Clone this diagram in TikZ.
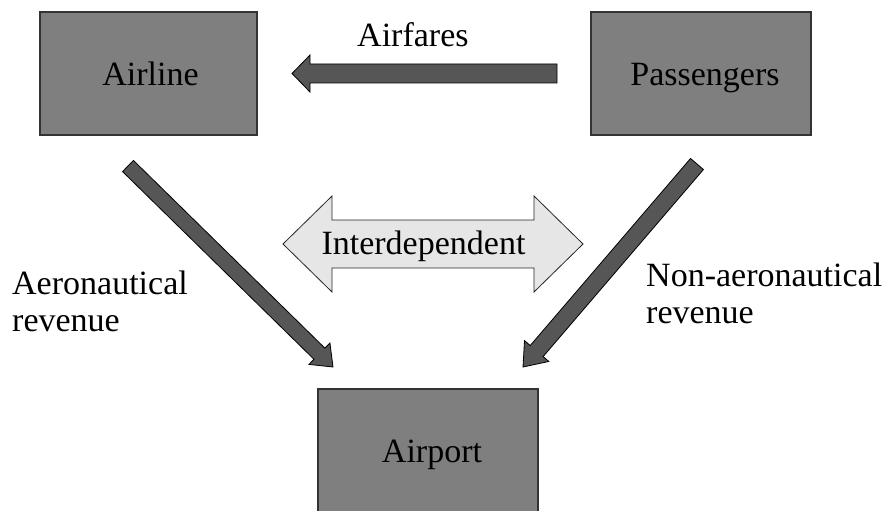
\documentclass[tikz,border=0pt]{standalone}
\usepackage{fontspec}
\setmainfont{Liberation Serif}
\usetikzlibrary{calc}
\definecolor{boxgray}{HTML}{7F7F7F}
\definecolor{arrowgray}{HTML}{565656}
\definecolor{palegray}{HTML}{E6E6E6}
\definecolor{edgegray}{HTML}{333333}
% #1 style, #2 tail, #3 tip, #4 shaft half width, #5 head half width, #6 head length
\newcommand\blockarr[6]{%
  \coordinate (ba-t) at (#2);
  \coordinate (ba-p) at (#3);
  \coordinate (ba-b) at ($(ba-p)!#6!(ba-t)$);
  \draw[#1] ($(ba-t)!#4!90:(ba-p)$) -- ($(ba-b)!#4!-90:(ba-t)$) --
    ($(ba-b)!#5!-90:(ba-t)$) -- (ba-p) -- ($(ba-b)!#5!90:(ba-t)$) --
    ($(ba-b)!#4!90:(ba-t)$) -- ($(ba-t)!#4!-90:(ba-p)$) -- cycle;}
\begin{document}
\begin{tikzpicture}[x=1pt,y=-1pt,
  box/.style={draw=edgegray, line width=1.2pt, fill=boxgray, minimum height=123pt,
    inner sep=0pt, text height=23pt, text depth=0pt, font=\fontsize{34}{37}\selectfont},
  lbl/.style={font=\fontsize{34}{37}\selectfont, inner sep=0pt, align=left},
  darrow/.style={draw=black, line width=0.8pt, fill=arrowgray, line join=miter},
  larrow/.style={draw=black!85, line width=0.8pt, fill=palegray, line join=miter}]
\useasboundingbox (0,0) rectangle (889,511);

\node[box, minimum width=217pt] (airline) at (148.5,73.5) {\hspace{4pt}Airline};
\node[box, minimum width=220pt] (pass) at (701,73.5) {\hspace{8pt}Passengers};
\node[box, minimum width=220pt] (airport) at (428,450.5) {\hspace{8pt}Airport};

% Airfares arrow
\coordinate (fare-tail) at (557,73.5);
\coordinate (fare-tip) at (292,73.5);
\blockarr{darrow}{fare-tail}{fare-tip}{9.5pt}{18.5pt}{18pt}
\node[lbl, anchor=base west] (fares) at (357,47) {Airfares};

% Interdependent double arrow
\draw[larrow] (283,244) -- (332,196) -- (332,220) -- (534,220) -- (534,196) --
  (583,244) -- (534,292) -- (534,268) -- (332,268) -- (332,292) -- cycle;
\node[lbl, anchor=base] (inter) at (423.5,254) {Interdependent};

% Diagonal arrows
\coordinate (aero-tail) at (128,166);
\coordinate (aero-tip) at (333,367);
\blockarr{darrow}{aero-tail}{aero-tip}{7.8pt}{15pt}{19pt}
\coordinate (nonaero-tail) at (697,164);
\coordinate (nonaero-tip) at (523,367);
\blockarr{darrow}{nonaero-tail}{nonaero-tip}{8.5pt}{16pt}{21pt}

\node[lbl, anchor=west] (aero) at (12,301) {Aeronautical\\revenue};
\node[lbl, anchor=west] (nonaero) at (646,293) {Non-aeronautical\\revenue};
\end{tikzpicture}
\end{document}
